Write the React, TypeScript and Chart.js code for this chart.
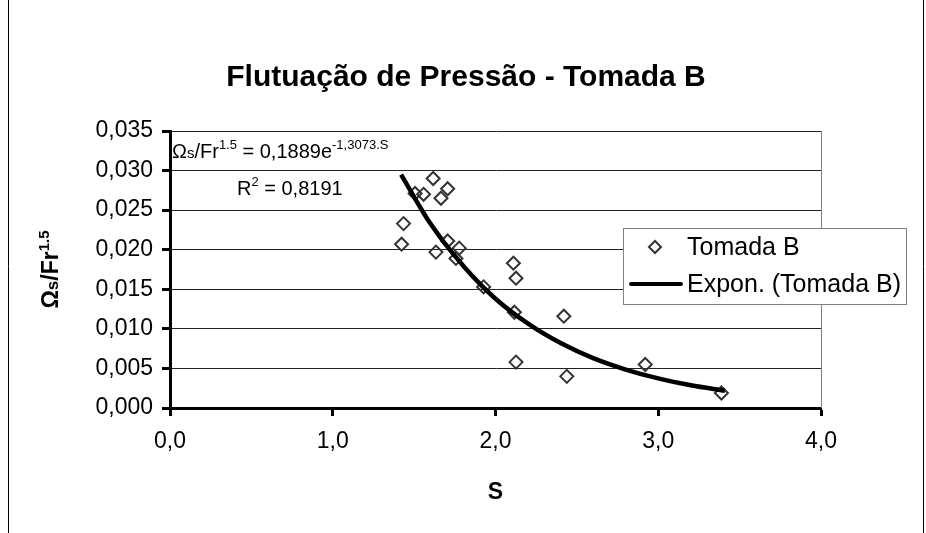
import React, { useEffect, useRef } from 'react';
import { Chart, registerables } from 'chart.js';
Chart.register(...registerables);

const titleText = 'Flutuação de Pressão - Tomada B';
const seriesLabel = 'Tomada B';
const trendLabel = 'Expon. (Tomada B)';
const xAxisTitle = 'S';

const sValues = [1.617, 1.506, 1.558, 1.706, 1.665, 1.435, 1.423, 1.634, 1.706, 1.777, 1.757, 2.110, 2.126, 1.927, 2.116, 2.126, 2.420, 2.438, 2.920, 3.388];
const omegaValues = [0.0290, 0.0271, 0.0270, 0.0277, 0.0265, 0.0233, 0.0207, 0.0197, 0.0211, 0.0202, 0.0189, 0.0183, 0.0164, 0.0153, 0.0121, 0.0058, 0.0116, 0.0040, 0.0055, 0.0019];

const trendS = [1.42, 1.6, 1.8, 2.0, 2.2, 2.4, 2.6, 2.8, 3.0, 3.2, 3.41];
const trendValues = [0.0295, 0.0233, 0.0180, 0.0138, 0.01065, 0.0082, 0.0063, 0.00486, 0.00374, 0.00288, 0.00219];

const xRange = [0, 4];
const xStep = 1;
const yRange = [0, 0.035];
const yStep = 0.005;

const FONT = "'Liberation Sans', Arial, sans-serif";

type Run = { text: string; size: number; bold?: boolean; dy?: number };

function runsWidth(ctx: CanvasRenderingContext2D, runs: Run[]) {
  let w = 0;
  for (const r of runs) {
    ctx.font = `${r.bold ? 'bold ' : ''}${r.size}px ${FONT}`;
    w += ctx.measureText(r.text).width;
  }
  return w;
}

function drawRuns(ctx: CanvasRenderingContext2D, x: number, y: number, runs: Run[]) {
  let cx = x;
  ctx.textAlign = 'left';
  ctx.textBaseline = 'alphabetic';
  for (const r of runs) {
    ctx.font = `${r.bold ? 'bold ' : ''}${r.size}px ${FONT}`;
    ctx.fillText(r.text, cx, y + (r.dy || 0));
    cx += ctx.measureText(r.text).width;
  }
  return cx;
}

const overlay = {
  id: 'overlay',
  afterDraw(chart: any) {
    const ctx: CanvasRenderingContext2D = chart.ctx;
    const ca = chart.chartArea;
    ctx.save();
    ctx.fillStyle = '#000';

    // plot area right border
    ctx.strokeStyle = '#808080';
    ctx.lineWidth = 1;
    ctx.beginPath();
    ctx.moveTo(Math.round(ca.right) + 0.5, ca.top);
    ctx.lineTo(Math.round(ca.right) + 0.5, ca.bottom);
    ctx.stroke();

    // chart outer border
    ctx.strokeStyle = '#000';
    ctx.beginPath();
    ctx.moveTo(8.5, 0);
    ctx.lineTo(8.5, 533);
    ctx.moveTo(923.5, 0);
    ctx.lineTo(923.5, 533);
    ctx.stroke();

    // title
    ctx.font = `bold 30px ${FONT}`;
    ctx.textAlign = 'center';
    ctx.textBaseline = 'alphabetic';
    ctx.fillText(titleText, 466, 86);

    // x axis title
    ctx.font = `bold 23px ${FONT}`;
    ctx.fillText(xAxisTitle, (ca.left + ca.right) / 2, 499);

    // y axis title (rotated)
    const yRuns: Run[] = [
      { text: 'Ω', size: 23, bold: true },
      { text: 's', size: 17, bold: true },
      { text: '/Fr', size: 23, bold: true },
      { text: '1.5', size: 15, bold: true, dy: -9 },
    ];
    ctx.save();
    ctx.translate(58, (ca.top + ca.bottom) / 2);
    ctx.rotate(-Math.PI / 2);
    const yw = runsWidth(ctx, yRuns);
    drawRuns(ctx, -yw / 2, 0, yRuns);
    ctx.restore();

    // equation
    drawRuns(ctx, ca.left + 2, 158, [
      { text: 'Ω', size: 20 },
      { text: 's', size: 15 },
      { text: '/Fr', size: 20 },
      { text: '1.5', size: 13, dy: -9 },
      { text: ' = 0,1889e', size: 20 },
      { text: '-1,3073.S', size: 13, dy: -9 },
    ]);
    drawRuns(ctx, 237, 195, [
      { text: 'R', size: 20 },
      { text: '2', size: 13, dy: -9 },
      { text: ' = 0,8191', size: 20 },
    ]);

    // legend
    ctx.font = `25px ${FONT}`;
    const tx = 687;
    const tw = Math.max(ctx.measureText(seriesLabel).width, ctx.measureText(trendLabel).width);
    const lx = 623, ly = 228, lr = Math.min(tx + tw + 5, 920), lb = 304;
    ctx.fillStyle = '#fff';
    ctx.fillRect(lx, ly, lr - lx, lb - ly);
    ctx.strokeStyle = '#808080';
    ctx.lineWidth = 1;
    ctx.strokeRect(lx + 0.5, ly + 0.5, lr - lx, lb - ly);
    ctx.fillStyle = '#000';
    ctx.textBaseline = 'middle';
    ctx.textAlign = 'left';
    ctx.fillText(seriesLabel, tx, 248);
    ctx.fillText(trendLabel, tx, 285);
    // marker
    ctx.strokeStyle = '#333';
    ctx.lineWidth = 2;
    ctx.beginPath();
    ctx.moveTo(655 - 6, 247);
    ctx.lineTo(655, 241);
    ctx.lineTo(655 + 6, 247);
    ctx.lineTo(655, 253);
    ctx.closePath();
    ctx.stroke();
    // line
    ctx.strokeStyle = '#000';
    ctx.lineWidth = 4;
    ctx.lineCap = 'round';
    ctx.beginPath();
    ctx.moveTo(631, 284);
    ctx.lineTo(681, 284);
    ctx.stroke();

    ctx.restore();
  },
};

const fmt = (d: number) => (v: any) => Number(v).toFixed(d).replace('.', ',');

export default function App() {
  const ref = useRef<HTMLCanvasElement>(null);
  useEffect(() => {
    if (!ref.current) return;
    const chart = new Chart(ref.current, {
      type: 'scatter',
      data: {
        datasets: [
          {
            label: trendLabel,
            type: 'line',
            data: trendS.map((s, i) => ({ x: s, y: trendValues[i] })),
            borderColor: '#000',
            borderWidth: 4.5,
            pointRadius: 0,
            cubicInterpolationMode: 'monotone',
            fill: false,
            order: 0,
          } as any,
          {
            label: seriesLabel,
            data: sValues.map((s, i) => ({ x: s, y: omegaValues[i] })),
            pointStyle: 'rectRot',
            pointRadius: 6.5,
            borderColor: '#333',
            backgroundColor: 'rgba(0,0,0,0)',
            pointBorderWidth: 2,
            order: 1,
          } as any,
        ],
      },
      options: {
        responsive: false,
        animation: false,
        layout: { padding: { left: 0, right: 926 - 821, top: 131, bottom: 533 - 408 - 60 } },
        plugins: { legend: { display: false }, tooltip: { enabled: false }, title: { display: false } },
        scales: {
          x: {
            type: 'linear',
            min: xRange[0],
            max: xRange[1],
            ticks: { stepSize: xStep, callback: fmt(1), color: '#000', font: { family: FONT, size: 23 }, padding: 12 },
            grid: { drawOnChartArea: false, drawTicks: true, tickLength: 8, tickColor: '#000', tickWidth: 3 } as any,
            border: { display: true, color: '#000', width: 3 },
            afterFit: (s: any) => { s.height = 60; },
          },
          y: {
            type: 'linear',
            min: yRange[0],
            max: yRange[1],
            ticks: { stepSize: yStep, callback: fmt(3), color: '#000', font: { family: FONT, size: 23 }, padding: 9 },
            grid: { color: '#222', lineWidth: 1, drawTicks: true, tickLength: 8, tickColor: '#000', tickWidth: 3 } as any,
            border: { display: true, color: '#000', width: 3 },
            afterFit: (s: any) => { s.width = 170; },
          },
        },
      },
      plugins: [overlay],
    });
    return () => chart.destroy();
  }, []);
  return (
    <div style={{ position: 'fixed', left: 0, top: 0, width: 926, height: 533, background: '#fff' }}>
      <canvas ref={ref} width={926} height={533} style={{ width: 926, height: 533 }} />
    </div>
  );
}
